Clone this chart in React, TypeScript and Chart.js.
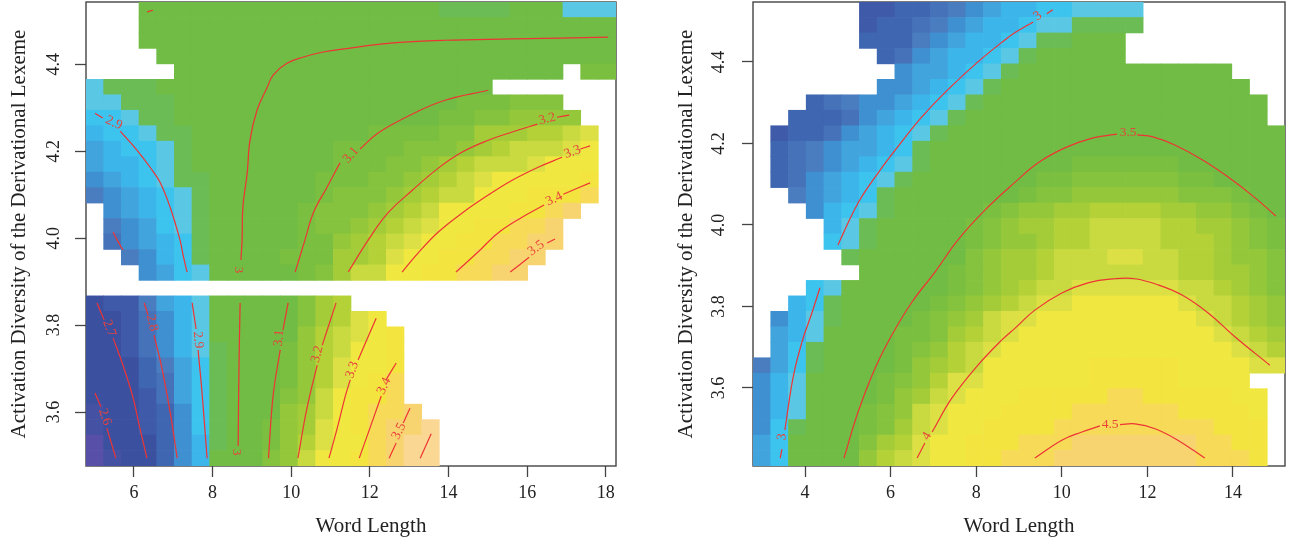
import { useEffect, useRef } from "react"
import { Chart, registerables } from "chart.js"

Chart.register(...registerables)

// colour ramp of the fitted surface, one entry per level letter
const levelKeys = "abcdefghijklmnopqrstuvwxyz"
const ramp = [
  "#5850a8", "#4551a2", "#3c50a0", "#3f5aa8", "#3f66b0", "#4572b8", "#4a7cc0", "#3f90d0", "#42a4dc",
  "#3cb5ea", "#3cc4ee", "#5ac8e4", "#6bbc55", "#70bc44", "#7abf40", "#85c33e", "#94c83a", "#a3cc38",
  "#b4d238", "#c8da40", "#dce044", "#f0e840", "#f3e440", "#f6da58", "#f8d470", "#fad894",
]

// surface levels, top row first, "." = no data (too far from any word)
const leftCells = [
  "...nnnnnnnnnnnnnnnnnmmmmnnnlll",
  "...nnnnnnnnnnnnnnnnnnnnnnnnnnn",
  "...nnnnnnnnnnnnnnnnnnnnnnnnnnn",
  "....nnnnnnnnnnnnnnnnnnnnnnnnnn",
  ".....nnnnnnnnnnnnnnnnnnnnnn.oo",
  "lmmmnnnnnnnnnnnnnnnnnnn.......",
  "llmmmnnnnnnnnnnnnnnnnoooppp...",
  "kklmmnnnnnnnnnnnnnnnooppqqqq..",
  "jkklmmnnnnnnnnnnoooopprrrsstu.",
  "ijkklmnnnnnnnnoooopppqrstttuv.",
  "ijjklmnnnnnnnnoooppqrstttuvvv.",
  "hijklmmnnnnnnoooppqrstuvvvvvw.",
  "ghijklmnnnnnnopppqrsttvvvwwwx.",
  ".hijklmnnnnnopppqrstvvvvwwxy..",
  ".ghiklmnnnnnoppqrstuvvwwxxy...",
  ".fhijkmnnnnnooqrstuvvwwxxyy...",
  "..ghjkmnnnnooorrsuvvwwxxyy....",
  "...hiklnnnnnoprttvvwwxxyy.....",
  "..............................",
  "cddgijlnnnnnprs...............",
  "ccdfhjlnnnnnprsuv.............",
  "ccdfhjlnnnnnqstuvw............",
  "ccdfhjlmnnnoqstvvw............",
  "cccegikmnnnoqsuvvw............",
  "cccefikmnnnoqsuvwx............",
  "cccdfikmnnnpqtvwwx............",
  "bccdehkmnnnqrtvwxxy...........",
  "bccdehkmnnoqruvwxyyz..........",
  "acccehjmnnoqsuvvxyzz..........",
  "abccehjnnnpqtvvwxyzz..........",
]

const rightCells = [
  "......ddeefghijjkkllll........",
  "......deefghijjkllmmmm........",
  "......eeeghijjklmmnnn.........",
  ".......efhijjklmnnnnn.........",
  "........hiijklmnnnnnnnnnnnn...",
  ".......hhijklmnnnnnnnnnnnnnn..",
  "...efghhijklmnnnnnnnnnnnnnnnn.",
  "..eeefhijklmnnnnnnnnnnnnnnnnn.",
  ".deefhijklmnnnnnnnnnnnnnnnnnnn",
  ".efghiijkmnnnnnnnnnnnnnnnnnnnn",
  ".efghijklmnnnnnnnnoooooonnnnnn",
  ".efhijklmnnnnnnnooppppppoonnnn",
  "..ghijkmnnnnnnnoppqqqqqqppponn",
  "...hjklmnnnnnopqqrrssssrrqqpon",
  "....jlmnnnnnopqrrssttttssrrqpo",
  "....klmnnnnnopqqrssttttsssrqpo",
  ".....mnnnnnnpqrrstttuuttssrqqp",
  "......nnnnnopqrrstttttttssrrqp",
  "...klnnnnnnopqrsttuuuuuuttsrqp",
  "..jkmnnnnnopqrstuuvvvvvvuttsrq",
  ".hjlmnnnnopqrtuuvvvvvvvvvutsrq",
  ".ijlnnnnooprstuvvvvvvvvvvvutsr",
  ".ikmnnnnopqstuvvvvvvvvvvvvvuts",
  "gikmnnnnoqrstvvvvvvwwwwwvvvvuu",
  "hjlnnnnopqsuuvvvvvvwwwwwvvvv..",
  "hjlnnnnoqrtuvvvwwwwwxxwwwwwvv.",
  "hjlnnnopqtuvvvwwwwxxxxxxwwwwv.",
  "hkmnnnoprtuvvwwwwxxxxxxxxxwww.",
  "iknnnnprsuvvwwwxxxyyyyyyyxxww.",
  "iknnnnqstuvvwwxxxyyyyyyyyxxxw.",
]

// axis ranges and tick values
const leftXRange = [4.78, 18.26]
const leftYRange = [3.476, 4.543]
const rightXRange = [2.785, 15.215]
const rightYRange = [3.4086, 4.547]
const leftXTicks = [6, 8, 10, 12, 14, 16, 18]
const rightXTicks = [4, 6, 8, 10, 12, 14]
const yTicks = [3.6, 3.8, 4.0, 4.2, 4.4]

type Pt = [number, number] | null

// contours of the left surface, null = gap left for the label
const left26: Pt[] = [[5.01, 3.644], [5.16, 3.612], null, [5.31, 3.563], [5.54, 3.494]]
const left27: Pt[] = [[5.06, 3.851], [5.24, 3.812], null, [5.47, 3.77], [5.72, 3.708], [5.98, 3.632], [6.15, 3.563], [6.33, 3.494]]
const left28a: Pt[] = [[5.47, 4.014], [5.57, 3.996], [5.72, 3.973]]
const left28b: Pt[] = [[6.26, 3.851], [6.36, 3.823], null, [6.51, 3.777], [6.71, 3.701], [6.92, 3.6], [7.1, 3.494]]
const left29a: Pt[] = [[5.01, 4.287], [5.21, 4.276], null, [5.65, 4.246], [6.08, 4.202], [6.41, 4.163], [6.66, 4.129], [6.92, 4.071], [7.17, 3.996], [7.25, 3.961], [7.35, 3.922]]
const left29b: Pt[] = [[7.48, 3.851], [7.58, 3.791], null, [7.63, 3.743], [7.73, 3.646], [7.86, 3.494]]
const left30a: Pt[] = [[18.06, 4.462], [15.62, 4.458], [13.91, 4.455], [12.46, 4.448], [11.5, 4.437], [10.81, 4.428], [10.3, 4.416], [9.89, 4.402], [9.54, 4.375], [9.39, 4.347], [9.13, 4.294], [8.95, 4.225], [8.88, 4.15], [8.77, 4.071], [8.75, 3.996], [8.72, 3.95]]
const left30b: Pt[] = [[8.7, 3.851], [8.67, 3.701], [8.65, 3.522]]
const left30c: Pt[] = [[6.33, 4.52], [6.48, 4.524]]
const left31a: Pt[] = [[15.01, 4.34], [13.91, 4.317], [13.07, 4.285], [12.21, 4.242], [11.75, 4.205], null, [11.24, 4.173], [10.91, 4.117], [10.56, 4.058], [10.35, 3.996], [10.1, 3.922]]
const left31b: Pt[] = [[9.92, 3.851], [9.79, 3.789], null, [9.72, 3.743], [9.54, 3.639], [9.42, 3.494]]
const left32a: Pt[] = [[17.07, 4.283], [16.76, 4.278], null, [16.26, 4.262], [15.62, 4.244], [15.01, 4.225], [14.35, 4.198], [13.74, 4.161], [13.08, 4.11], [12.46, 4.058], [11.96, 3.996], [11.45, 3.922]]
const left32b: Pt[] = [[11.14, 3.851], [10.79, 3.754], null, [10.66, 3.708], [10.4, 3.609], [10.17, 3.494]]
const left33a: Pt[] = [[17.6, 4.212], [17.35, 4.205], null, [16.89, 4.186], [16.28, 4.163], [15.62, 4.133], [15.01, 4.099], [14.35, 4.058], [13.74, 4.014], [13.23, 3.966], [12.82, 3.922]]
const left33b: Pt[] = [[12.16, 3.816], [11.7, 3.72], null, [11.5, 3.674], [11.37, 3.635], [11.17, 3.563], [10.96, 3.494]]
const left34a: Pt[] = [[17.6, 4.127], [16.92, 4.101], null, [16.43, 4.076], [15.87, 4.048], [15.26, 4.012], [14.75, 3.968], [14.19, 3.922]]
const left34b: Pt[] = [[12.67, 3.713], [12.41, 3.674], null, [12.29, 3.637], [11.73, 3.494]]
const left35a: Pt[] = [[16.71, 3.998], [16.51, 3.989], null, [16.05, 3.956], [15.57, 3.922]]
const left35b: Pt[] = [[13.02, 3.609], [12.85, 3.575], null, [12.67, 3.529], [12.49, 3.494]]
const left35c: Pt[] = [[13.56, 3.55], [13.28, 3.494]]

const leftContours = [
  left26, left27, left28a, left28b, left29a, left29b, left30a, left30b, left30c, left31a, left31b,
  left32a, left32b, left33a, left33b, left34a, left34b, left35a, left35b, left35c,
]

const leftLabels = [
  { text: "2.6", x: 5.26, y: 3.589, angle: 70 },
  { text: "2.7", x: 5.37, y: 3.793, angle: 70 },
  { text: "2.8", x: 6.46, y: 3.805, angle: 78 },
  { text: "2.9", x: 5.49, y: 4.265, angle: 25 },
  { text: "2.9", x: 7.63, y: 3.766, angle: 85 },
  { text: "3", x: 8.67, y: 3.927, angle: 90 },
  { text: "3", x: 8.62, y: 3.508, angle: 90 },
  { text: "3.1", x: 11.52, y: 4.191, angle: -48 },
  { text: "3.1", x: 9.69, y: 3.77, angle: -85 },
  { text: "3.2", x: 16.51, y: 4.274, angle: -15 },
  { text: "3.2", x: 10.66, y: 3.733, angle: -75 },
  { text: "3.3", x: 17.15, y: 4.198, angle: -20 },
  { text: "3.3", x: 11.55, y: 3.697, angle: -70 },
  { text: "3.4", x: 16.69, y: 4.09, angle: -25 },
  { text: "3.4", x: 12.36, y: 3.66, angle: -65 },
  { text: "3.5", x: 16.23, y: 3.977, angle: -35 },
  { text: "3.5", x: 12.74, y: 3.556, angle: -65 },
]

// contours of the right surface
const right3a: Pt[] = [[4.77, 3.951], [5.24, 4.054], [5.71, 4.128], [6.17, 4.192], [6.73, 4.265], [7.34, 4.332], [8.04, 4.4], [8.67, 4.454], [8.91, 4.472], [9.33, 4.498], null, [9.65, 4.518], [9.79, 4.528]]
const right3b: Pt[] = [[4.35, 3.846], [4.16, 3.784], [3.93, 3.713], [3.72, 3.625], [3.53, 3.497], null, [3.46, 3.45], [3.42, 3.428]]
const right35: Pt[] = [[4.91, 3.428], [5.24, 3.541], [5.64, 3.649], [6.03, 3.73], [6.5, 3.811], [7.04, 3.885], [7.57, 3.963], [8.21, 4.037], [8.91, 4.105], [9.44, 4.152], [10.07, 4.189], [10.71, 4.213], [11.29, 4.223], null, [11.76, 4.221], [12.13, 4.216], [12.64, 4.196], [13.28, 4.16], [13.88, 4.118], [14.51, 4.067], [15.0, 4.022]]
const right40: Pt[] = [[6.62, 3.428], [6.8, 3.465], null, [6.97, 3.492], [7.43, 3.575], [8.04, 3.656], [8.6, 3.718], [8.91, 3.747], [9.37, 3.791], [10.0, 3.833], [10.61, 3.858], [11.24, 3.868], [11.71, 3.868], [12.25, 3.853], [12.81, 3.828], [13.42, 3.784], [14.05, 3.725], [14.86, 3.656]]
const right45: Pt[] = [[9.37, 3.428], [10.0, 3.472], [10.47, 3.492], [10.89, 3.507], null, [11.36, 3.51], [11.71, 3.512], [12.18, 3.5], [12.71, 3.472], [13.34, 3.428]]

const rightContours = [right3a, right3b, right35, right40, right45]

const rightLabels = [
  { text: "3", x: 9.44, y: 4.513, angle: -35 },
  { text: "3", x: 3.46, y: 3.48, angle: -85 },
  { text: "3.5", x: 11.55, y: 4.226, angle: 0 },
  { text: "4", x: 6.85, y: 3.482, angle: -60 },
  { text: "4.5", x: 11.13, y: 3.51, angle: 0 },
]

const serif = "'Liberation Serif', serif"

interface PanelProps {
  cells: string[]
  contours: Pt[][]
  labels: { text: string; x: number; y: number; angle: number }[]
  xRange: number[]
  yRange: number[]
  xTicks: number[]
  leftWidth: number
  rightPad: number
  titlePad: number
  tickPad: number
  xTitleShift: number
}

function Panel(props: PanelProps) {
  const canvasRef = useRef<HTMLCanvasElement>(null)

  useEffect(() => {
    if (!canvasRef.current) return
    const { cells, contours, labels, xRange, yRange, xTicks } = props

    // turn the level strings into floating bars, one per grid cell
    const dx = (xRange[1] - xRange[0]) / 30
    const dy = (yRange[1] - yRange[0]) / cells.length
    const bars: { x: number; y: number[] }[] = []
    const colors: string[] = []
    cells.forEach((row, r) => {
      row.split("").forEach((key, c) => {
        if (key === ".") return
        const top = yRange[1] - r * dy
        bars.push({ x: xRange[0] + (c + 0.5) * dx, y: [top - dy, top] })
        colors.push(ramp[levelKeys.indexOf(key)])
      })
    })

    const lineSets = contours.map((pts) => ({
      type: "line" as const,
      data: pts.map((p) => (p ? { x: p[0], y: p[1] } : { x: NaN, y: NaN })),
      borderColor: "#ee3434",
      borderWidth: 1.2,
      pointRadius: 0,
      tension: 0.4,
      spanGaps: false,
      order: 0,
    }))

    const chart = new Chart(canvasRef.current, {
      type: "bar",
      data: {
        datasets: [
          {
            data: bars as any,
            backgroundColor: colors,
            borderWidth: 0,
            barPercentage: 1,
            categoryPercentage: 1,
            grouped: false,
            order: 1,
          },
          ...lineSets,
        ] as any,
      },
      options: {
        responsive: false,
        animation: false,
        events: [],
        layout: { padding: { left: 0, right: props.rightPad, top: 2, bottom: 0 } },
        plugins: { legend: { display: false }, tooltip: { enabled: false } },
        scales: {
          x: {
            type: "linear",
            min: xRange[0],
            max: xRange[1],
            offset: false,
            afterBuildTicks: (s) => {
              s.ticks = xTicks.map((value) => ({ value }))
            },
            afterFit: (s) => {
              s.height = 76
              s.paddingLeft = 0
              s.paddingRight = 0
            },
            border: { display: false },
            grid: { offset: false, drawOnChartArea: false, tickLength: 11, tickColor: "#444", tickWidth: 1.3 },
            ticks: { color: "#222", padding: 5, maxRotation: 0, autoSkip: false, font: { family: serif, size: 18 } },
          },
          y: {
            type: "linear",
            min: yRange[0],
            max: yRange[1],
            afterBuildTicks: (s) => {
              s.ticks = yTicks.map((value) => ({ value }))
            },
            afterFit: (s) => {
              s.width = props.leftWidth
              s.paddingTop = 0
              s.paddingBottom = 0
            },
            border: { display: false },
            grid: { drawOnChartArea: false, tickLength: 11, tickColor: "#444", tickWidth: 1.3 },
            ticks: {
              color: "#222",
              padding: props.tickPad,
              minRotation: 90,
              maxRotation: 90,
              crossAlign: "center",
              autoSkip: false,
              font: { family: serif, size: 18 },
              callback: (v) => Number(v).toFixed(1),
            },
            title: {
              display: true,
              text: "Activation Diversity of the Derivational Lexeme",
              color: "#222",
              font: { family: serif, size: 21 },
              padding: { top: props.titlePad, bottom: 0 },
            },
          },
        },
      },
      plugins: [
        {
          // R style box under the surface, contour labels and x title on top
          id: "boxAndLabels",
          beforeDatasetsDraw(c) {
            const { left, right, top, bottom } = c.chartArea
            c.ctx.save()
            c.ctx.strokeStyle = "#444"
            c.ctx.lineWidth = 1.4
            c.ctx.strokeRect(left, top, right - left, bottom - top)
            c.ctx.restore()
          },
          afterDatasetsDraw(c) {
            const ctx = c.ctx
            ctx.save()
            ctx.fillStyle = "#e8443c"
            ctx.font = `13.5px ${serif}`
            ctx.textAlign = "center"
            ctx.textBaseline = "middle"
            labels.forEach((l) => {
              ctx.save()
              ctx.translate(c.scales.x.getPixelForValue(l.x), c.scales.y.getPixelForValue(l.y))
              ctx.rotate((l.angle * Math.PI) / 180)
              ctx.fillText(l.text, 0, 0)
              ctx.restore()
            })
            ctx.fillStyle = "#222"
            ctx.font = `21px ${serif}`
            const mid = (c.chartArea.left + c.chartArea.right) / 2
            ctx.fillText("Word Length", mid + props.xTitleShift, c.chartArea.bottom + 60)
            ctx.restore()
          },
        },
      ],
    })

    return () => chart.destroy()
  }, [])

  return <canvas ref={canvasRef} width={645} height={542} style={{ display: "block" }} />
}

export default function App() {
  return (
    <div style={{ position: "fixed", left: 0, top: 0, width: 1290, height: 542, display: "flex", background: "#fff" }}>
      <Panel
        cells={leftCells}
        contours={leftContours}
        labels={leftLabels}
        xRange={leftXRange}
        yRange={leftYRange}
        xTicks={leftXTicks}
        leftWidth={86}
        rightPad={29}
        titlePad={7}
        tickPad={9}
        xTitleShift={20}
      />
      <Panel
        cells={rightCells}
        contours={rightContours}
        labels={rightLabels}
        xRange={rightXRange}
        yRange={rightYRange}
        xTicks={rightXTicks}
        leftWidth={108}
        rightPad={5}
        titlePad={29}
        tickPad={11}
        xTitleShift={0}
      />
    </div>
  )
}
